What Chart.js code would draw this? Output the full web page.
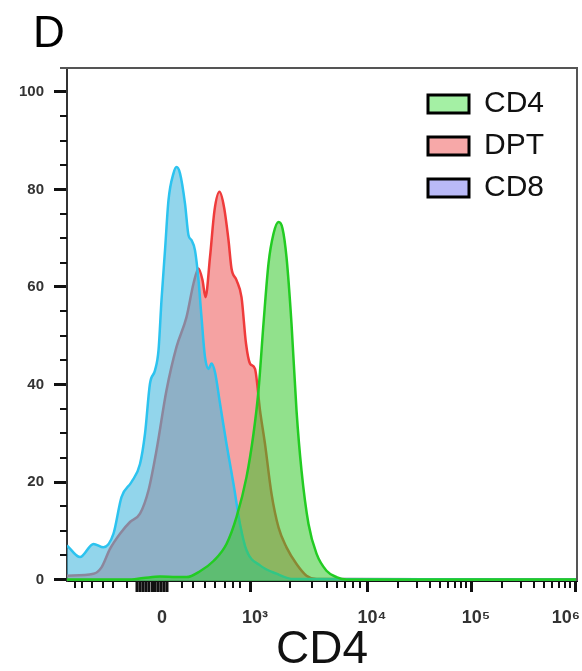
<!DOCTYPE html>
<html>
<head>
<meta charset="utf-8">
<script src="https://cdn.jsdelivr.net/npm/chart.js@4.4.1/dist/chart.umd.min.js"></script>
<style>
html,body{margin:0;padding:0;background:#fff;}
#wrap{width:582px;height:671px;}
</style>
</head>
<body>
<div id="wrap"><canvas id="c" width="582" height="671"></canvas></div>
<script>
// ---- data (x in display channels of the biexponential CD4 axis, y = % of max) ----
const panelLabel = 'D';
const seriesNames = ['CD4', 'DPT', 'CD8'];

const cd4X = [0, 120, 153, 186, 219, 239, 266, 293, 319, 339, 359, 373, 383, 393, 403, 413, 423, 431, 439, 449, 459, 469, 483, 499, 519, 539, 559, 1020];
const cd4Y = [0, 0, 0.3, 0.6, 0.5, 0.5, 1.7, 3.8, 7.3, 12.8, 21.0, 29.9, 38.8, 52.5, 64.8, 70.9, 73.3, 72.0, 66.1, 52.5, 34.7, 22.4, 11.4, 5.3, 1.8, 0.5, 0, 0];

const dptX = [0, 53, 69, 86, 106, 126, 146, 163, 179, 199, 219, 239, 253, 263, 271, 277, 286, 295, 305, 314, 323, 329, 339, 349, 358, 366, 376, 386, 396, 409, 423, 439, 459, 479, 499, 1020];
const dptY = [0.8, 1.2, 2.5, 6.3, 9.4, 11.8, 13.5, 18.3, 26.5, 38.8, 47.7, 53.8, 60.7, 63.8, 61.4, 57.9, 66.1, 75.7, 79.5, 76.4, 69.6, 63.8, 61.4, 57.9, 48.4, 44.3, 43.2, 34.7, 27.8, 17.6, 10.7, 6.6, 3.2, 0.8, 0.1, 0];

const cd8X = [0, 26, 53, 73, 93, 109, 129, 146, 156, 166, 176, 183, 189, 196, 203, 213, 219, 226, 236, 243, 249, 256, 263, 269, 276, 283, 289, 296, 306, 319, 333, 346, 359, 386, 419, 453, 1020];
const cd8Y = [7.0, 4.6, 7.3, 6.6, 9.4, 16.9, 20.0, 23.7, 29.9, 40.2, 42.9, 47.0, 57.3, 67.5, 77.8, 83.3, 84.6, 83.3, 77.1, 70.6, 69.6, 67.5, 61.4, 53.8, 45.6, 43.2, 44.3, 42.5, 36.1, 27.8, 19.6, 11.4, 6.0, 2.9, 1.2, 0.1, 0];

// axis ticks
const xTickValues = [170, 366, 600, 808, 1016];
const xTickLabels = ['0', '10\u00B3', '10\u2074', '10\u2075', '10\u2076'];
const xMinorTicks = [16, 30, 50, 72, 92, 120, 230, 252, 276, 296, 316, 332, 346, 446, 490, 520, 540, 556, 572, 586, 662, 700, 726, 746, 762, 776, 788, 798, 870, 908, 934, 954, 970, 984, 996, 1006];
const xZeroTicks = [140, 146, 152, 158, 164, 176, 182, 188, 194, 200];
const yTickStep = 20;
const yMinorTicks = [5, 10, 15, 25, 30, 35, 45, 50, 55, 65, 70, 75, 85, 90, 95];

const legendFill = ['#a4f0a4', '#f7a8a8', '#b9b9f7'];

const toPts = (xs, ys) => xs.map((v, i) => ({x: v, y: ys[i]}));

Chart.defaults.font.family = "'Liberation Sans', Arial, sans-serif";

const decor = {
  id: 'decor',
  afterLayout(chart) {
    const lg = chart.legend;
    if (!lg) return;
    const a = chart.chartArea;
    lg.left = a.right - 161;
    lg.right = lg.left + lg.width;
    lg.top = a.top + 9;
    lg.bottom = lg.top + 300;
  },
  afterDraw(chart) {
    const {ctx, chartArea: a, scales: {x, y}} = chart;
    ctx.save();
    ctx.strokeStyle = '#111';
    ctx.lineWidth = 2;
    xMinorTicks.forEach(v => {
      const p = Math.round(x.getPixelForValue(v));
      ctx.beginPath(); ctx.moveTo(p, a.bottom); ctx.lineTo(p, a.bottom + 7); ctx.stroke();
    });
    ctx.lineWidth = 3;
    xZeroTicks.forEach(v => {
      const p = Math.round(x.getPixelForValue(v));
      ctx.beginPath(); ctx.moveTo(p, a.bottom); ctx.lineTo(p, a.bottom + 11); ctx.stroke();
    });
    ctx.lineWidth = 2;
    yMinorTicks.forEach(v => {
      const p = Math.round(y.getPixelForValue(v));
      ctx.beginPath(); ctx.moveTo(a.left - 7, p); ctx.lineTo(a.left, p); ctx.stroke();
    });
    ctx.strokeStyle = '#555';
    ctx.lineWidth = 2;
    ctx.beginPath();
    ctx.moveTo(a.left - 7, a.top);
    ctx.lineTo(a.right, a.top);
    ctx.lineTo(a.right, a.bottom);
    ctx.stroke();
    // panel letter
    ctx.fillStyle = '#000';
    ctx.font = "44px 'Liberation Sans', Arial, sans-serif";
    ctx.textAlign = 'left';
    ctx.textBaseline = 'alphabetic';
    ctx.fillText(panelLabel, 33, 47);
    ctx.restore();
  }
};

new Chart(document.getElementById('c'), {
  type: 'line',
  data: {
    datasets: [
      {label: seriesNames[0], data: toPts(cd4X, cd4Y), borderColor: '#22cc22', backgroundColor: 'rgba(55,200,46,0.55)', order: 0},
      {label: seriesNames[1], data: toPts(dptX, dptY), borderColor: '#ef3b3b', backgroundColor: 'rgba(235,70,70,0.5)', order: 2},
      {label: seriesNames[2], data: toPts(cd8X, cd8Y), borderColor: '#2cc3ef', backgroundColor: 'rgba(73,185,222,0.6)', order: 1}
    ]
  },
  options: {
    responsive: false,
    animation: false,
    devicePixelRatio: 1,
    datasets: {
      line: {fill: 'start', borderWidth: 2.5, pointRadius: 0, cubicInterpolationMode: 'monotone'}
    },
    layout: {padding: {left: 0, right: 5, top: 68, bottom: 0}},
    scales: {
      x: {
        type: 'linear',
        min: 0,
        max: 1020,
        afterBuildTicks: (s) => { s.ticks = xTickValues.map(v => ({value: v})); },
        afterFit: (s) => { s.height = 90; s.paddingLeft = 0; s.paddingRight = 0; },
        ticks: {
          autoSkip: false,
          maxRotation: 0,
          align: 'inner',
          labelOffset: 5,
          padding: 15,
          color: '#333',
          font: {size: 18, weight: 'bold'},
          callback: (v) => { const i = xTickValues.indexOf(v); return i >= 0 ? xTickLabels[i] : ''; }
        },
        grid: {drawOnChartArea: false, tickLength: 11, tickWidth: 3, tickColor: '#111'},
        border: {color: '#111', width: 2},
        title: {display: true, text: 'CD4', color: '#111', font: {size: 46, lineHeight: 0.9}, padding: {top: 0, bottom: 0}}
      },
      y: {
        min: -0.3,
        max: 104.9,
        afterFit: (s) => { s.width = 67; },
        ticks: {
          stepSize: yTickStep,
          includeBounds: false,
          padding: 10,
          color: '#333',
          font: {size: 15, weight: 'bold'}
        },
        grid: {drawOnChartArea: false, tickLength: 13, tickWidth: 3, tickColor: '#111'},
        border: {color: '#333', width: 2}
      }
    },
    plugins: {
      tooltip: {enabled: false},
      title: {display: false},
      legend: {
        position: 'chartArea',
        align: 'start',
        labels: {
          boxWidth: 41,
          boxHeight: 18,
          padding: 12,
          color: '#111',
          font: {size: 30},
          sort: (a, b) => a.datasetIndex - b.datasetIndex,
          generateLabels: (chart) => {
            const items = Chart.defaults.plugins.legend.labels.generateLabels(chart);
            items.forEach(it => { it.fillStyle = legendFill[it.datasetIndex]; it.strokeStyle = '#000'; it.lineWidth = 3; });
            return items;
          }
        }
      }
    }
  },
  plugins: [decor]
});
</script>
</body>
</html>
